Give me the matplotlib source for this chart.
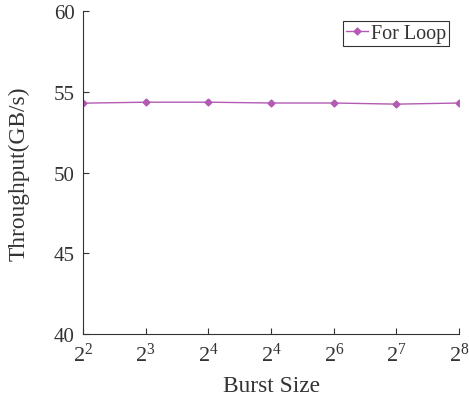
import matplotlib
matplotlib.use("Agg")
import matplotlib.pyplot as plt

x_labels = ["$2^{2}$", "$2^{3}$", "$2^{4}$", "$2^{4}$", "$2^{6}$", "$2^{7}$", "$2^{8}$"]
throughput = [54.30, 54.36, 54.36, 54.31, 54.31, 54.24, 54.31]
series_name = "For Loop"

plt.rcParams['font.family'] = ['Liberation Serif', 'DejaVu Serif']
plt.rcParams['mathtext.fontset'] = 'custom'
plt.rcParams['mathtext.rm'] = 'Liberation Serif'
plt.rcParams['mathtext.it'] = 'Liberation Serif'

txt = '#333333'
fig = plt.figure(figsize=(4.69, 4.06), dpi=100)
ax = fig.add_axes([0.177, 0.175, 0.802, 0.795])
xs = list(range(len(throughput)))
ax.plot(xs, throughput, color='#B35AB3', lw=1.0, marker='D', markersize=3.5,
        label=series_name)
ax.set_xlim(0, len(xs) - 1)
ax.set_ylim(40, 60)
ax.set_yticks([40, 45, 50, 55, 60])
ax.set_xticks(xs)
ax.set_xticklabels(x_labels)
for s in ['top', 'right']:
    ax.spines[s].set_visible(False)
for s in ['left', 'bottom']:
    ax.spines[s].set_color(txt)
    ax.spines[s].set_linewidth(0.8)
ax.tick_params(direction='in', length=4, width=0.8, colors=txt, labelsize=15)
ax.tick_params(axis='y', pad=6)
ax.tick_params(axis='x', pad=6, labelsize=16)
ax.set_xlabel('Burst Size', fontsize=16.8, color=txt, labelpad=7)
ax.set_ylabel('Throughput(GB/s)', fontsize=16.8, color=txt, labelpad=17)
leg = ax.legend(loc='upper right', fontsize=14.5, fancybox=False, framealpha=1,
                edgecolor=txt, handlelength=1.1, handletextpad=0.15,
                borderpad=0.15, borderaxespad=0.5, labelcolor=txt)
leg.get_frame().set_linewidth(0.8)
fig.savefig('out.png', dpi=100)
